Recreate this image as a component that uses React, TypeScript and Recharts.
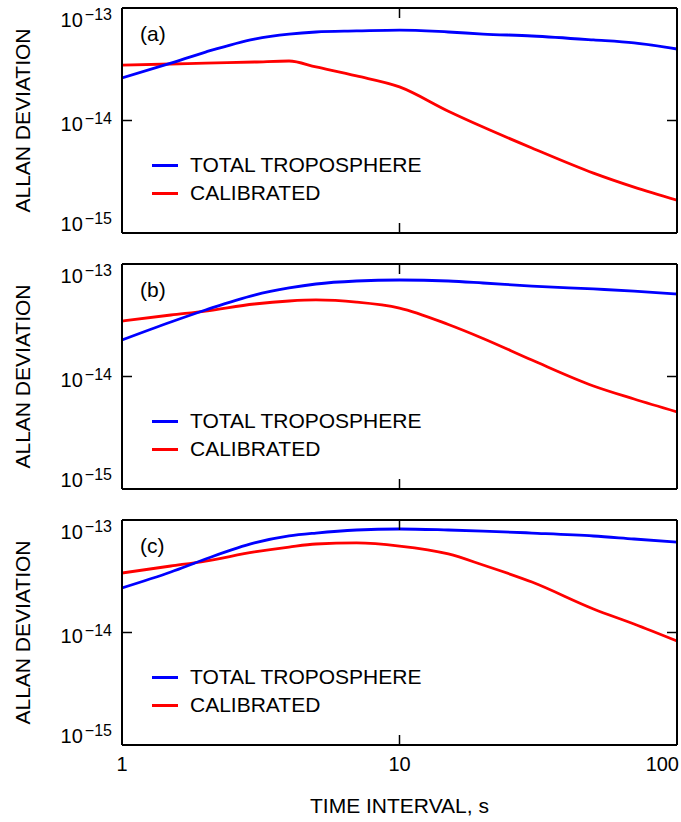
import { LineChart, Line, XAxis, YAxis, Legend } from "recharts";

// averaging time, s
const tau = [1, 1.5, 2, 3, 4, 5, 7, 10, 15, 20, 30, 50, 70, 100];

// panel (a)
const totalA = [2.39e-14, 3.24e-14, 4.06e-14, 5.3e-14, 5.87e-14, 6.12e-14, 6.25e-14, 6.37e-14, 6.12e-14, 5.87e-14, 5.64e-14, 5.2e-14, 4.89e-14, 4.32e-14];
const calibratedA = [3.11e-14, 3.18e-14, 3.24e-14, 3.31e-14, 3.38e-14, 2.99e-14, 2.49e-14, 1.99e-14, 1.21e-14, 8.75e-15, 5.7e-15, 3.41e-15, 2.56e-15, 1.96e-15];

// panel (b)
const totalB = [2.11e-14, 3.05e-14, 3.9e-14, 5.3e-14, 6.12e-14, 6.64e-14, 7.06e-14, 7.21e-14, 7.06e-14, 6.78e-14, 6.37e-14, 6.0e-14, 5.75e-14, 5.41e-14];
const calibratedB = [3.11e-14, 3.52e-14, 3.82e-14, 4.41e-14, 4.69e-14, 4.79e-14, 4.59e-14, 4.06e-14, 2.9e-14, 2.18e-14, 1.4e-14, 8.24e-15, 6.31e-15, 4.85e-15];

// panel (c)
const totalC = [2.49e-14, 3.45e-14, 4.5e-14, 6.25e-14, 7.21e-14, 7.66e-14, 8.15e-14, 8.32e-14, 8.15e-14, 7.98e-14, 7.66e-14, 7.21e-14, 6.78e-14, 6.37e-14];
const calibratedC = [3.38e-14, 3.9e-14, 4.32e-14, 5.2e-14, 5.75e-14, 6.12e-14, 6.25e-14, 5.87e-14, 4.99e-14, 3.98e-14, 2.81e-14, 1.62e-14, 1.19e-14, 8.4e-15];

const seriesNames = ["TOTAL TROPOSPHERE", "CALIBRATED"];
const xTicks = [1, 10, 100];
const yTicks = [1e-15, 1e-14, 1e-13];

const font = '"Liberation Sans", Arial, sans-serif';
const TICK = 10;

const panels = [
  { tag: "(a)", total: totalA, calibrated: calibratedA },
  { tag: "(b)", total: totalB, calibrated: calibratedB },
  { tag: "(c)", total: totalC, calibrated: calibratedC },
];

// with tickSize = -TICK and tickMargin = TICK, x/y given to the tick is the axis line itself
function LeftTick(props: any) {
  const { x, y, payload } = props;
  const exp = Math.round(Math.log10(payload.value));
  const dy = exp === -13 ? 19 : exp === -15 ? -2 : 10;
  return (
    <g>
      <line x1={x} y1={y} x2={x + TICK} y2={y} stroke="#000" strokeWidth={1.5} />
      <text x={x - 10} y={y + dy} textAnchor="end" fontSize={20} fill="#000" fontFamily={font}>
        10
        <tspan dx={2} dy={-7} fontSize={16}>{"\u2212" + Math.abs(exp)}</tspan>
      </text>
    </g>
  );
}

function RightTick({ x, y }: any) {
  return <line x1={x} y1={y} x2={x - TICK} y2={y} stroke="#000" strokeWidth={1.5} />;
}

function TopTick({ x, y }: any) {
  return <line x1={x} y1={y} x2={x} y2={y + TICK} stroke="#000" strokeWidth={1.5} />;
}

function BottomTick(props: any) {
  const { x, y, payload, showLabel } = props;
  const v = payload.value;
  return (
    <g>
      <line x1={x} y1={y} x2={x} y2={y - TICK} stroke="#000" strokeWidth={1.5} />
      {showLabel && (
        <text x={v === 100 ? x + 2 : x} y={y + 26} textAnchor={v === 100 ? "end" : "middle"} fontSize={20} fill="#000" fontFamily={font}>
          {v}
        </text>
      )}
    </g>
  );
}

function LegendBox({ payload }: any) {
  const items = [...(payload || [])].sort((a: any, b: any) => seriesNames.indexOf(a.value) - seriesNames.indexOf(b.value));
  return (
    <div style={{ fontFamily: font, fontSize: 21, color: "#000" }}>
      {items.map((e: any) => (
        <div key={e.value} style={{ display: "flex", alignItems: "center", height: 28 }}>
          <span style={{ display: "inline-block", width: 26, height: 3, background: e.color, marginRight: 12 }} />
          <span>{e.value}</span>
        </div>
      ))}
    </div>
  );
}

function yLabel({ viewBox }: any) {
  const cy = viewBox.y + viewBox.height / 2;
  return (
    <text x={30} y={cy} transform={`rotate(-90, 30, ${cy})`} textAnchor="middle" fontSize={21} fill="#000" fontFamily={font}>
      ALLAN DEVIATION
    </text>
  );
}

function xLabel({ viewBox }: any) {
  return (
    <text x={viewBox.x + viewBox.width / 2} y={viewBox.y + 68} textAnchor="middle" fontSize={21} fill="#000" fontFamily={font}>
      TIME INTERVAL, s
    </text>
  );
}

function Panel({ tag, total, calibrated, last }: any) {
  const data = tau.map((t, i) => ({ t, total: total[i], calibrated: calibrated[i] }));
  const height = last ? 310 : 256;
  const axis = { stroke: "#000", strokeWidth: 2 };
  const xProps = { dataKey: "t", type: "number" as const, scale: "log" as const, domain: [1, 100], allowDataOverflow: true, ticks: xTicks, interval: 0 as const };
  const yProps = { type: "number" as const, scale: "log" as const, domain: [1e-15, 1e-13], allowDataOverflow: true, ticks: yTicks, interval: 0 as const };
  return (
    <div style={{ position: "relative", width: 681, height }}>
      <LineChart width={681} height={height} data={data} margin={{ top: 0, right: 0, bottom: 0, left: 0 }}>
        <XAxis
          xAxisId="bottom"
          {...xProps}
          height={last ? 77 : 23}
          axisLine={axis}
          tickLine={false}
          tickSize={-TICK}
          tickMargin={TICK}
          tick={<BottomTick showLabel={last} />}
          label={last ? xLabel : undefined}
        />
        <XAxis
          xAxisId="top"
          orientation="top"
          {...xProps}
          height={8}
          axisLine={axis}
          tickLine={false}
          tickSize={-TICK}
          tickMargin={TICK}
          tick={<TopTick />}
        />
        <YAxis
          yAxisId="left"
          {...yProps}
          width={122}
          axisLine={axis}
          tickLine={false}
          tickSize={-TICK}
          tickMargin={TICK}
          tick={<LeftTick />}
          label={yLabel}
        />
        <YAxis
          yAxisId="right"
          orientation="right"
          {...yProps}
          width={4}
          axisLine={axis}
          tickLine={false}
          tickSize={-TICK}
          tickMargin={TICK}
          tick={<RightTick />}
        />
        <Legend
          layout="vertical"
          align="center"
          verticalAlign="middle"
          content={<LegendBox />}
          wrapperStyle={{ left: 152, top: 151, width: "auto", height: "auto" }}
        />
        <Line
          xAxisId="bottom"
          yAxisId="left"
          dataKey="calibrated"
          name={seriesNames[1]}
          type="monotone"
          stroke="#ff0000"
          strokeWidth={2.8}
          dot={false}
          isAnimationActive={false}
        />
        <Line
          xAxisId="bottom"
          yAxisId="left"
          dataKey="total"
          name={seriesNames[0]}
          type="monotone"
          stroke="#0000ff"
          strokeWidth={2.8}
          dot={false}
          isAnimationActive={false}
        />
      </LineChart>
      <div style={{ position: "absolute", left: 140, top: 22, fontFamily: font, fontSize: 21, lineHeight: "normal", color: "#000" }}>
        {tag}
      </div>
    </div>
  );
}

export default function App() {
  return (
    <div style={{ position: "absolute", left: 0, top: 0, width: 681, background: "#fff" }}>
      {panels.map((p, i) => (
        <Panel key={p.tag} {...p} last={i === panels.length - 1} />
      ))}
    </div>
  );
}
